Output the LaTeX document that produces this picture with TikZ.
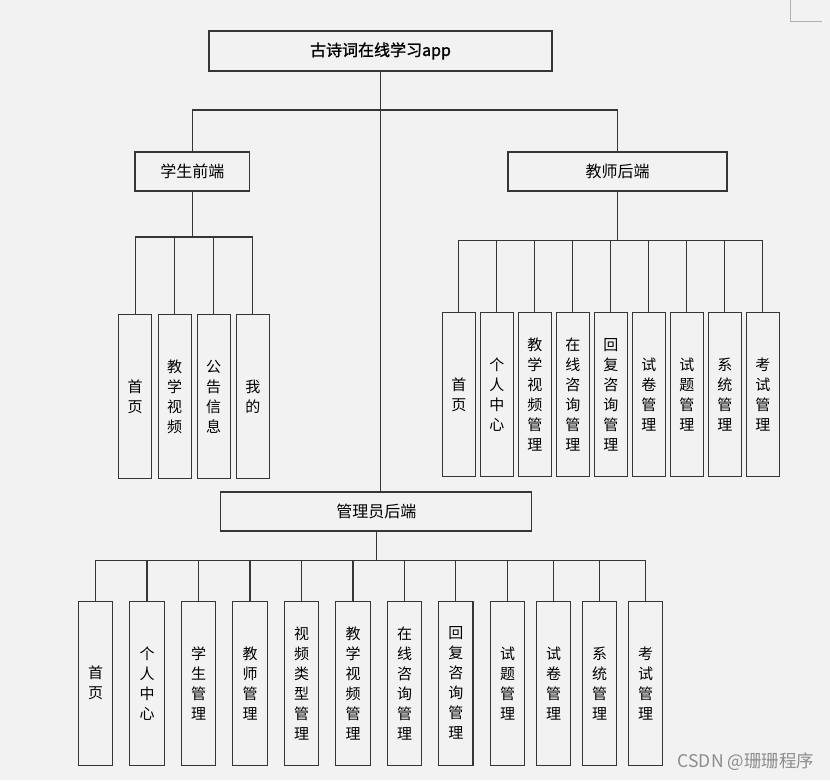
\documentclass[tikz,border=0pt]{standalone}
\usepackage{fontspec}
\setmainfont{Noto Sans CJK SC}
\newfontfamily\titlefont[FakeBold=1.2]{Noto Sans CJK SC}
\definecolor{bgc}{HTML}{F2F2F2}
\definecolor{linec}{HTML}{363636}
\definecolor{markc}{HTML}{B0B0B0}
\definecolor{wmc}{HTML}{8C8C8C}
\tikzset{
  box/.style={draw=linec, fill=bgc, line width=1.2pt, inner sep=0pt, font=\fontsize{16}{20}\selectfont},
  vbox/.style={box, minimum height=164pt, align=center, font=\fontsize{15}{20}\selectfont},
  vs/.style={vbox, minimum width=33pt},
  va/.style={vbox, minimum width=34.5pt},
  conn/.style={draw=linec, line width=1.2pt}
}
\begin{document}
\begin{tikzpicture}[x=1pt,y=-1pt]
\useasboundingbox (0,0) rectangle (830,780);
\fill[bgc] (0,0) rectangle (830,780);
% corner mark
\draw[markc, line width=1pt] (790,0) -- (790,21) -- (822,21);

% top levels
\node[box, minimum width=343pt, minimum height=40pt, font=\titlefont\fontsize{16}{20}\selectfont] (title) at (380.5,51) {古诗词在线学习app};
\node[box, minimum width=114.5pt, minimum height=39pt] (student) at (192.3,171.5) {学生前端};
\node[box, minimum width=219pt, minimum height=39pt] (teacher) at (617.5,171.5) {教师后端};
\node[box, minimum width=311pt, minimum height=39pt] (admin) at (376.3,511.5) {管理员后端};

% student children
\node[vs] (s1) at (135.2,396.8) {首\\页};
\node[vs] (s2) at (174.7,396.8) {教\\学\\视\\频};
\node[vs] (s3) at (213.7,396.8) {公\\告\\信\\息};
\node[vs] (s4) at (252.8,396.8) {我\\的};

% teacher children
\node[vs] (t1) at (458.8,394.7) {首\\页};
\node[vs] (t2) at (496.8,394.7) {个\\人\\中\\心};
\node[vs] (t3) at (534.8,394.7) {教\\学\\视\\频\\管\\理};
\node[vs] (t4) at (572.8,394.7) {在\\线\\咨\\询\\管\\理};
\node[vs] (t5) at (610.8,394.7) {回\\复\\咨\\询\\管\\理};
\node[vs] (t6) at (648.8,394.7) {试\\卷\\管\\理};
\node[vs] (t7) at (686.8,394.7) {试\\题\\管\\理};
\node[vs] (t8) at (724.8,394.7) {系\\统\\管\\理};
\node[vs] (t9) at (762.8,394.7) {考\\试\\管\\理};

% admin children
\node[va] (a1) at (95.5,683.2) {首\\页};
\node[va] (a2) at (147,683.2) {个\\人\\中\\心};
\node[va] (a3) at (198.6,683.2) {学\\生\\管\\理};
\node[va] (a4) at (250,683.2) {教\\师\\管\\理};
\node[va] (a5) at (301.6,683.2) {视\\频\\类\\型\\管\\理};
\node[va] (a6) at (353,683.2) {教\\学\\视\\频\\管\\理};
\node[va] (a7) at (404.6,683.2) {在\\线\\咨\\询\\管\\理};
\node[va] (a8) at (455.8,683.2) {回\\复\\咨\\询\\管\\理};
\node[va] (a9) at (507.6,683.2) {试\\题\\管\\理};
\node[va] (a10) at (553.6,683.2) {试\\卷\\管\\理};
\node[va] (a11) at (599.6,683.2) {系\\统\\管\\理};
\node[va] (a12) at (645.6,683.2) {考\\试\\管\\理};

% connectors: top
\coordinate (tb) at (0,110);
\draw[conn] (title.south) -- (title.south |- admin.north);
\draw[conn] (student.north) -- (student.north |- tb) -- (teacher.north |- tb) -- (teacher.north);

% student
\coordinate (sb) at (0,237);
\draw[conn] (student.south) -- (student.south |- sb);
\draw[conn] (s1.north) -- (s1.north |- sb) -- (s4.north |- sb) -- (s4.north);
\foreach \n in {s2,s3} \draw[conn] (\n.north) -- (\n.north |- sb);

% teacher
\coordinate (tcb) at (0,240.7);
\draw[conn] (teacher.south) -- (teacher.south |- tcb);
\draw[conn] (t1.north) -- (t1.north |- tcb) -- (t9.north |- tcb) -- (t9.north);
\foreach \n in {t2,t3,t4,t5,t6,t7,t8} \draw[conn] (\n.north) -- (\n.north |- tcb);

% admin
\coordinate (ab) at (0,560.3);
\draw[conn] (admin.south) -- (admin.south |- ab);
\draw[conn] (a1.north) -- (a1.north |- ab) -- (a12.north |- ab) -- (a12.north);
\foreach \n in {a2,a3,a4,a5,a6,a7,a8,a9,a10,a11} \draw[conn] (\n.north) -- (\n.north |- ab);

% watermark
\node[text=wmc, font=\fontsize{17.5}{19}\selectfont, inner sep=0pt] (wm) at (746,762) {CSDN @珊珊程序};
\end{tikzpicture}
\end{document}
